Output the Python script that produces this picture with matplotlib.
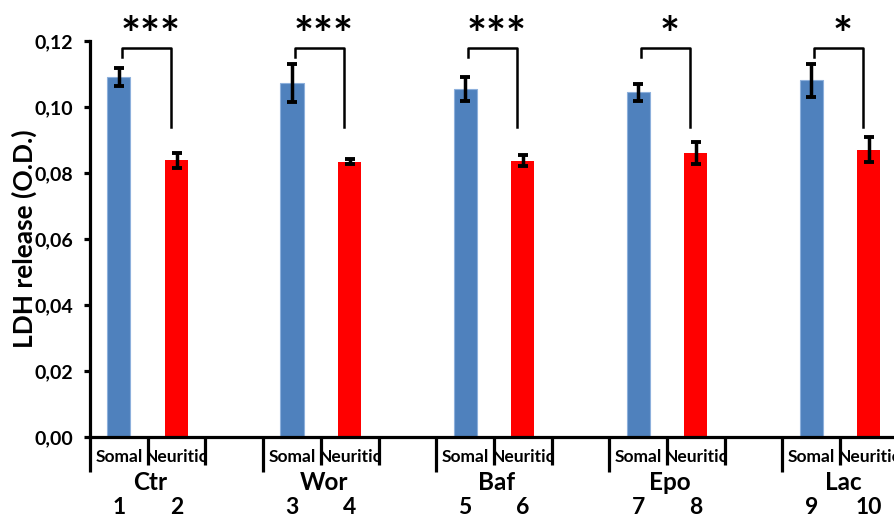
import matplotlib
matplotlib.use('Agg')
import matplotlib.pyplot as plt
from matplotlib.patches import Rectangle

plt.rcParams['font.family'] = ['Lato', 'DejaVu Sans']
plt.rcParams['font.weight'] = 'bold'

groups = ['Ctr', 'Wor', 'Baf', 'Epo', 'Lac']
sub_labels = ['Somal', 'Neuritic']
somal = [0.1091, 0.1072, 0.1054, 0.1045, 0.1081]
somal_err = [0.0028, 0.0058, 0.0036, 0.0026, 0.0050]
neuritic = [0.0838, 0.0834, 0.0837, 0.0861, 0.0870]
neuritic_err = [0.0022, 0.0008, 0.0017, 0.0034, 0.0038]
sig = ['***', '***', '***', '*', '*']
numbers = ['1', '2', '3', '4', '5', '6', '7', '8', '9', '10']

blue = '#4F81BD'
red = '#FF0000'

fig = plt.figure(figsize=(8.95, 5.19), dpi=100)
# axis runs past the right edge, like the cropped original
ax = fig.add_axes([0.1006, 0.158, 0.967, 0.763])

# each group takes 3 slots: Somal, Neuritic, gap
xs = [3 * i for i in range(len(groups))]
xn = [3 * i + 1 for i in range(len(groups))]

err_kw = dict(ecolor='black', elinewidth=2.5, capsize=3.4, capthick=2.8)
ax.bar(xs, somal, width=0.4, color=blue, edgecolor='#8DB0DC', linewidth=0.8,
       yerr=somal_err, error_kw=err_kw, zorder=2)
ax.bar(xn, neuritic, width=0.4, color=red, linewidth=0,
       yerr=neuritic_err, error_kw=err_kw, zorder=2)

ax.set_xlim(-0.5, 14.5)
ax.set_ylim(0, 0.12)
ax.set_yticks([0, 0.02, 0.04, 0.06, 0.08, 0.10, 0.12])
ax.set_yticklabels(['0,00', '0,02', '0,04', '0,06', '0,08', '0,10', '0,12'],
                   fontsize=14, fontweight='bold')
ax.set_ylabel('LDH release (O.D.)', fontsize=19, fontweight='bold')
ax.yaxis.set_label_coords(-0.061, 0.5)

for s in ['top', 'right']:
    ax.spines[s].set_visible(False)
for s in ['left', 'bottom']:
    ax.spines[s].set_linewidth(2.3)
ax.tick_params(axis='y', direction='out', length=4, width=2.3, pad=8)

# category separators: long at group starts, short between sub-categories
bounds = [k - 0.5 for k in range(16)]
ax.set_xticks([b for k, b in enumerate(bounds) if k % 3 == 0])
ax.set_xticks([b for k, b in enumerate(bounds) if k % 3 != 0], minor=True)
ax.tick_params(axis='x', which='major', direction='out', length=25, width=2.3, labelbottom=False)
ax.tick_params(axis='x', which='minor', direction='out', length=20, width=2.3, labelbottom=False)

tr = ax.get_xaxis_transform()
for i in range(len(groups)):
    for j, lab in enumerate(sub_labels):
        x = 3 * i + j
        t = ax.text(x, -0.05, lab, transform=tr, ha='center', va='center',
                    fontsize=12.5, fontweight='bold', clip_on=True)
        # Excel cuts long labels at the category boundary
        t.set_clip_path(Rectangle((x - 0.5, -0.2), 1.0, 0.2, transform=tr))
    ax.text(3 * i + 0.55, -0.115, groups[i], transform=tr, ha='center', va='center',
            fontsize=17.5, fontweight='bold', clip_on=False)

for k, num in enumerate(numbers):
    x = 3 * (k // 2) + (k % 2)
    ax.text(x, -0.177, num, transform=tr, ha='center', va='center',
            fontsize=16.5, fontweight='bold', clip_on=False)

# significance brackets
for i in range(len(groups)):
    x0 = xs[i] + 0.05
    x1 = xn[i] - 0.1
    ax.plot([x0, x0, x1, x1], [0.1153, 0.1178, 0.1178, 0.0939], color='black',
            lw=1.8, clip_on=False, zorder=3)
    ax.text((xs[i] + xn[i]) / 2 + 0.05, 0.1170, sig[i], ha='center', va='baseline',
            fontsize=34, fontweight='bold', clip_on=False)

fig.savefig('out.png', dpi=100)
